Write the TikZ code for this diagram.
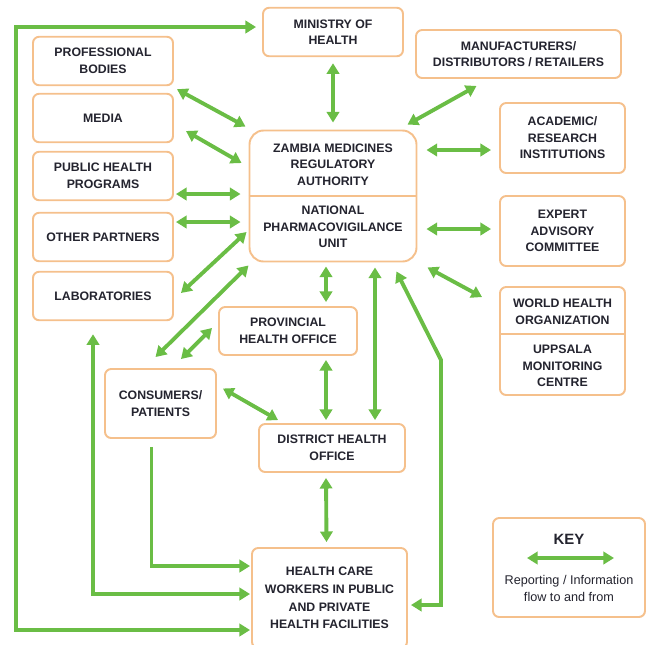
\documentclass[tikz,border=0pt]{standalone}
\usepackage{fontspec}
\setmainfont{Liberation Sans}
\usepackage{tikz}
\usetikzlibrary{arrows.meta,calc}
\definecolor{zgreen}{HTML}{6ABD45}
\definecolor{zpeach}{HTML}{F5C08C}
\definecolor{zink}{HTML}{24242F}
\tikzset{
  box/.style={draw=zpeach,fill=white,rounded corners=3.5pt,line width=1.1pt,align=center,text=zink,font={\fontsize{7}{9.4}\selectfont\bfseries},inner sep=2pt},
  txt/.style={align=center,text=zink,font={\fontsize{7}{9.4}\selectfont\bfseries},inner sep=0pt},
  arr/.style={{Triangle[length=6pt,width=7pt]}-{Triangle[length=6pt,width=7pt]},line width=2.2pt,draw=zgreen},
  oarr/.style={-{Triangle[length=6pt,width=7pt]},line width=2.2pt,draw=zgreen},
}
\begin{document}
\begin{tikzpicture}[x=0.2mm,y=-0.2mm,
  lbox/.style={box,minimum width=2.8cm,minimum height=0.97cm},
  rbox/.style={box,minimum width=2.5cm,minimum height=1.4cm}]
  \useasboundingbox (0,0) rectangle (646,644);
  % left column
  \node[lbox] (pb) at (103,61) {PROFESSIONAL\\BODIES};
  \node[lbox] (media) at (103,118) {MEDIA};
  \node[lbox] (php) at (103,176) {PUBLIC HEALTH\\PROGRAMS};
  \node[lbox] (op) at (103,237) {OTHER PARTNERS};
  \node[lbox] (lab) at (103,296) {LABORATORIES};
  % top and centre
  \node[lbox] (moh) at (333,32) {MINISTRY OF\\HEALTH};
  \node[box,minimum width=4.1cm,minimum height=0.96cm] (mfr) at (518.5,54) {MANUFACTURERS/\\DISTRIBUTORS / RETAILERS};
  \node[box,rounded corners=8pt,minimum width=3.34cm,minimum height=2.62cm] (zmra) at (333,196) {};
  \node[txt] (zmrat) at (333,164.5) {ZAMBIA MEDICINES\\REGULATORY\\AUTHORITY};
  \node[txt] (npu) at (333,227) {NATIONAL\\PHARMACOVIGILANCE\\UNIT};
  \draw[draw=zpeach,line width=1.1pt] (zmra.west) -- (zmra.east);
  % right column
  \node[rbox] (acad) at (562.5,138) {ACADEMIC/\\RESEARCH\\INSTITUTIONS};
  \node[rbox] (eac) at (562.5,231) {EXPERT\\ADVISORY\\COMMITTEE};
  \node[box,minimum width=2.5cm,minimum height=2.16cm] (who) at (562.5,341) {};
  \draw[draw=zpeach,line width=1.1pt] ($(who.west)+(0,-7)$) -- ($(who.east)+(0,-7)$);
  \node[txt] (whot) at (562.5,311.5) {WORLD HEALTH\\ORGANIZATION};
  \node[txt] (umc) at (562.5,366) {UPPSALA\\MONITORING\\CENTRE};
  % lower levels
  \node[box,minimum width=2.76cm,minimum height=0.96cm] (prov) at (288,331) {PROVINCIAL\\HEALTH OFFICE};
  \node[box,minimum width=2.22cm,minimum height=1.38cm] (cons) at (160.5,403.5) {CONSUMERS/\\PATIENTS};
  \node[box,minimum width=2.92cm,minimum height=0.96cm] (dho) at (332,448) {DISTRICT HEALTH\\OFFICE};
  \node[box,minimum width=3.1cm,minimum height=2.0cm,font={\fontsize{7}{10}\selectfont\bfseries}] (hcw) at (329.5,598) {HEALTH CARE\\WORKERS IN PUBLIC\\AND PRIVATE\\HEALTH FACILITIES};
  % key
  \node[box,minimum width=3.04cm,minimum height=1.98cm] (key) at (569,567.5) {};
  \node[txt,font={\fontsize{8.5}{10}\selectfont\bfseries}] (keyt) at (569,539) {KEY};
  \coordinate (ka) at (527,558); \coordinate (kb) at (614,558);
  \draw[arr] (ka) -- (kb);
  \node[txt,font={\fontsize{7.2}{9.6}\selectfont}] (keyd) at (569,588.5) {Reporting / Information\\flow to and from};
  % flows round the authority
  \draw[arr] ($(moh.south)+(0,6)$) -- ($(zmra.north)+(0,-7)$);
  \draw[arr] ($(pb.south east)+(3,3)$) -- ($(zmra.north west)+(-3,-3)$);
  \draw[arr] ($(media.east)+(12,13)$) -- ($(zmra.west)+(-7,-33)$);
  \draw[arr] ($(php.east)+(2,18)$) -- ($(zmra.west)+(-8,-2)$);
  \draw[arr] ($(op.east)+(2,-15)$) -- ($(zmra.west)+(-8,26)$);
  \draw[arr] ($(lab.east)+(7,-3)$) -- ($(zmra.west)+(-2,36)$);
  \draw[arr] ($(cons.north)+(-5,-11)$) -- ($(zmra.south west)+(0,3)$);
  \draw[arr] ($(cons.north east)+(-36,-9)$) -- ($(prov.west)+(-6,-3)$);
  \draw[arr] ($(mfr.south)+(-42,7)$) -- ($(zmra.north east)+(-10,-5)$);
  \draw[arr] ($(zmra.east)+(9,-46)$) -- ($(acad.west)+(-8,12)$);
  \draw[arr] ($(zmra.east)+(9,33)$) -- ($(eac.west)+(-8,-2)$);
  \draw[arr] ($(zmra.south east)+(10,5)$) -- ($(who.north west)+(-17,11)$);
  \draw[arr] ($(zmra.south)+(-7,4)$) -- ($(prov.north)+(38,-4)$);
  \draw[arr] ($(zmra.south)+(42,5)$) -- ($(dho.north)+(43,-3)$);
  \coordinate (rbend) at (441,360);
  \draw[arr] ($(zmra.south east)+(-21,9)$) -- (rbend) |- ($(hcw.east)+(3,7)$);
  % down the chain
  \draw[arr] ($(prov.south)+(38,4)$) -- ($(dho.north)+(-6,-3)$);
  \draw[arr] ($(cons.east)+(6,-15)$) -- ($(dho.north west)+(20,-3)$);
  \draw[arr] ($(dho.south)+(-6,5)$) -- ($(hcw.north)+(-3,-5)$);
  \draw[oarr] ($(cons.south)+(-9,8)$) |- ($(hcw.west)+(-1,-32)$);
  \draw[arr] ($(lab.south)+(-10,13)$) |- ($(hcw.west)+(-1,-4)$);
  \coordinate (lcorner) at (16,27);
  \draw[arr] ($(hcw.west)+(-1,32)$) -| (lcorner) -- ($(moh.west)+(-6,-5)$);
\end{tikzpicture}
\end{document}
